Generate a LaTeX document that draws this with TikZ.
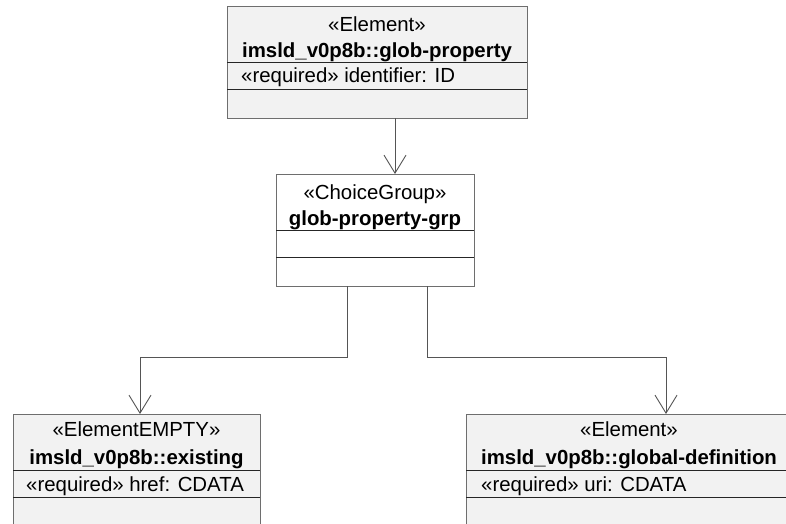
\documentclass[tikz,border=0pt]{standalone}
\usepackage{fontspec}
\newfontfamily\umlfont{Liberation Sans}
\usetikzlibrary{arrows.meta}
\definecolor{boxfill}{HTML}{F2F2F2}
\definecolor{boxline}{HTML}{6E6E6E}
\definecolor{conline}{HTML}{555555}
\tikzset{
  umlbox/.style={draw=boxline, line width=1pt, anchor=north west, inner sep=0pt, outer sep=0pt},
  divider/.style={draw=black!85, line width=0.9pt},
  lbl/.style={anchor=base, inner sep=0pt, font=\umlfont\fontsize{20.4}{24}\selectfont},
  attr/.style={anchor=base west, inner sep=0pt, font=\umlfont\fontsize{20.4}{24}\selectfont},
  conn/.style={draw=conline, line width=0.9pt},
  arr/.style={conn, -{Straight Barb[length=18pt, width=22pt, line width=0.9pt]}}
}
\begin{document}
\begin{tikzpicture}[x=1pt, y=-1pt]
\useasboundingbox (0,0) rectangle (786,524);
\clip (0,0) rectangle (786,524);
% top element
\node[umlbox, fill=boxfill, minimum width=300pt, minimum height=111pt] (gp) at (227,7) {};
\draw[divider] (227,62) -- (527,62);
\draw[divider] (227,89) -- (527,89);
\node[lbl] (gps) at (377,32) {«Element»};
\node[lbl] (gpn) at (377,58) {\bfseries imsld\_v0p8b::glob-property};
\node[attr] (gpa) at (241,83) {«required» identifier: ID};
% choice group
\node[umlbox, fill=white, minimum width=198pt, minimum height=112pt] (cg) at (276,174) {};
\draw[divider] (276,230) -- (474,230);
\draw[divider] (276,257) -- (474,257);
\node[lbl] (cgs) at (375,199) {«ChoiceGroup»};
\node[lbl] (cgn) at (375,225) {\bfseries glob-property-grp};
% existing
\node[umlbox, fill=boxfill, minimum width=247pt, minimum height=130pt] (ex) at (13,414) {};
\draw[divider] (13,470) -- (260,470);
\draw[divider] (13,497) -- (260,497);
\node[lbl] (exs) at (136.5,436) {«ElementEMPTY»};
\node[lbl] (exn) at (136.5,464) {\bfseries imsld\_v0p8b::existing};
\node[attr] (exa) at (26,491) {«required» href: CDATA};
% global definition
\node[umlbox, fill=boxfill, minimum width=326pt, minimum height=130pt] (gd) at (466,414) {};
\draw[divider] (466,470) -- (792,470);
\draw[divider] (466,497) -- (792,497);
\node[lbl] (gds) at (629,436) {«Element»};
\node[lbl] (gdn) at (629,464) {\bfseries imsld\_v0p8b::global-definition};
\node[attr] (gda) at (481,491) {«required» uri: CDATA};
% connectors
\coordinate (c1) at (395,118);
\coordinate (c1e) at (395,174);
\draw[arr] (c1) -- (c1e);
\coordinate (l0) at (347,286);
\coordinate (l1) at (347,357);
\coordinate (l2) at (140,357);
\coordinate (l3) at (140,414);
\draw[arr] (l0) -- (l1) -- (l2) -- (l3);
\coordinate (r0) at (427,286);
\coordinate (r1) at (427,357);
\coordinate (r2) at (666,357);
\coordinate (r3) at (666,414);
\draw[arr] (r0) -- (r1) -- (r2) -- (r3);
\end{tikzpicture}
\end{document}
